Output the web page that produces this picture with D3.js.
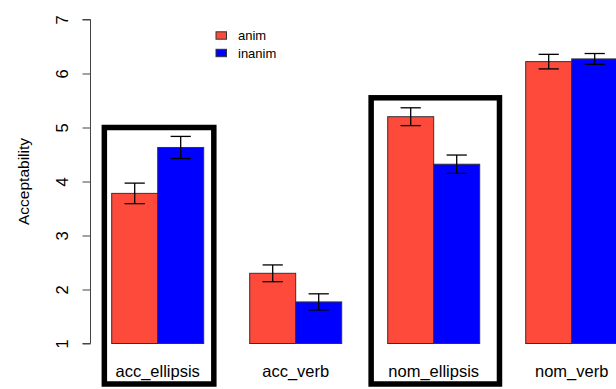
<!DOCTYPE html>
<html>
<head>
<meta charset="utf-8">
<script src="https://cdn.jsdelivr.net/npm/d3@7"></script>
<style>
  body { margin: 0; background: #fff; }
  text { font-family: "Liberation Sans", Arial, sans-serif; fill: #000; }
</style>
</head>
<body>
<div id="chart"></div>
<script>
"use strict";

// Données
const categories = ["acc_ellipsis", "acc_verb", "nom_ellipsis", "nom_verb"];
const seriesNames = ["anim", "inanim"];
const seriesColors = ["#fd4a3b", "#0000ff"];
const animMeans = [3.78, 2.30, 5.20, 6.22];
const animSE = [0.19, 0.155, 0.165, 0.135];
const inanimMeans = [4.63, 1.77, 4.32, 6.27];
const inanimSE = [0.205, 0.15, 0.17, 0.10];
const yTicks = [1, 2, 3, 4, 5, 6, 7];
// rectangles de mise en évidence (en unités du graphique, comme rect() en R)
const boxCats = ["acc_ellipsis", "nom_ellipsis"];
const boxLeft = [0.84, 6.64];
const boxRight = [3.22, 9.43];
const boxTop = [5.0, 5.55];
const boxBottom = [0.25, 0.25];

const svgWidth = 616;
const svgHeight = 389;

const svg = d3.select("#chart")
    .append("svg")
    .attr("width", svgWidth)
    .attr("height", svgHeight);

// barplot(beside=TRUE): largeur 1, espace 1 entre groupes
const xScale = d3.scaleLinear()
    .domain([0, 12])
    .range([65.7, 617.7]);

const yScale = d3.scaleLinear()
    .domain([1, 7])
    .range([343.5, 19.5]);

const bars = [];
categories.forEach((cat, i) => {
    [animMeans, inanimMeans].forEach((means, j) => {
        const se = j === 0 ? animSE : inanimSE;
        bars.push({ cat: cat, series: seriesNames[j], color: seriesColors[j],
            x0: 1 + 3 * i + j, mean: means[i], se: se[i] });
    });
});

// barres
svg.selectAll(".bar")
    .data(bars)
    .enter().append("rect")
    .attr("class", "bar")
    .attr("x", d => xScale(d.x0))
    .attr("width", xScale(1) - xScale(0))
    .attr("y", d => yScale(d.mean))
    .attr("height", d => yScale(1) - yScale(d.mean))
    .attr("fill", d => d.color)
    .attr("stroke", "#333")
    .attr("stroke-width", 1);

// barres d'erreur
const capHalf = 0.22;
const err = svg.append("g")
    .attr("stroke", "#000")
    .attr("stroke-width", 1.3);

bars.forEach(d => {
    const cx = xScale(d.x0 + 0.5);
    const yTop = yScale(d.mean + d.se);
    const yBot = yScale(d.mean - d.se);
    err.append("line").attr("x1", cx).attr("x2", cx).attr("y1", yTop).attr("y2", yBot);
    err.append("line").attr("x1", xScale(d.x0 + 0.5 - capHalf)).attr("x2", xScale(d.x0 + 0.5 + capHalf))
        .attr("y1", yTop).attr("y2", yTop);
    err.append("line").attr("x1", xScale(d.x0 + 0.5 - capHalf)).attr("x2", xScale(d.x0 + 0.5 + capHalf))
        .attr("y1", yBot).attr("y2", yBot);
});

// rectangles noirs
svg.selectAll(".box")
    .data(boxCats)
    .enter().append("rect")
    .attr("class", "box")
    .attr("x", (d, i) => xScale(boxLeft[i]))
    .attr("width", (d, i) => xScale(boxRight[i]) - xScale(boxLeft[i]))
    .attr("y", (d, i) => yScale(boxTop[i]))
    .attr("height", (d, i) => yScale(boxBottom[i]) - yScale(boxTop[i]))
    .attr("fill", "none")
    .attr("stroke", "#000")
    .attr("stroke-width", 5.5);

// étiquettes des catégories
svg.selectAll(".cat")
    .data(categories)
    .enter().append("text")
    .attr("class", "cat")
    .attr("x", (d, i) => xScale(2 + 3 * i))
    .attr("y", 377)
    .attr("text-anchor", "middle")
    .attr("font-size", 16.5)
    .text(d => d);

// axe Y
const yAxis = svg.append("g")
    .attr("transform", "translate(90.5,0)")
    .call(d3.axisLeft(yScale).tickValues(yTicks).tickSize(8).tickPadding(0).tickFormat(d3.format("d")));
yAxis.selectAll("path, line").attr("stroke", "#444").attr("stroke-width", 1);
yAxis.select(".domain").attr("d", `M-8,${yScale(1)}H0V${yScale(7)}H-8`);
yAxis.selectAll(".tick text")
    .attr("font-size", 16.5)
    .attr("font-family", "Liberation Sans, Arial, sans-serif")
    .attr("fill", "#000")
    .attr("x", 0)
    .attr("dy", 0)
    .attr("text-anchor", "middle")
    .attr("dominant-baseline", "central")
    .attr("transform", "translate(-29,0) rotate(-90)");

// titre de l'axe Y
svg.append("text")
    .attr("transform", `translate(23,${yScale(4)}) rotate(-90)`)
    .attr("text-anchor", "middle")
    .attr("dominant-baseline", "central")
    .attr("font-size", 15.5)
    .text("Acceptability");

// légende
const legend = svg.append("g");
seriesNames.forEach((name, i) => {
    const y = 35.5 + i * 17.5;
    legend.append("rect")
        .attr("x", 216).attr("y", y - 3.7)
        .attr("width", 10.5).attr("height", 7.4)
        .attr("fill", seriesColors[i])
        .attr("stroke", "#333").attr("stroke-width", 1);
    legend.append("text")
        .attr("x", 238).attr("y", y)
        .attr("dominant-baseline", "central")
        .attr("font-size", 13)
        .text(name);
});
</script>
</body>
</html>
